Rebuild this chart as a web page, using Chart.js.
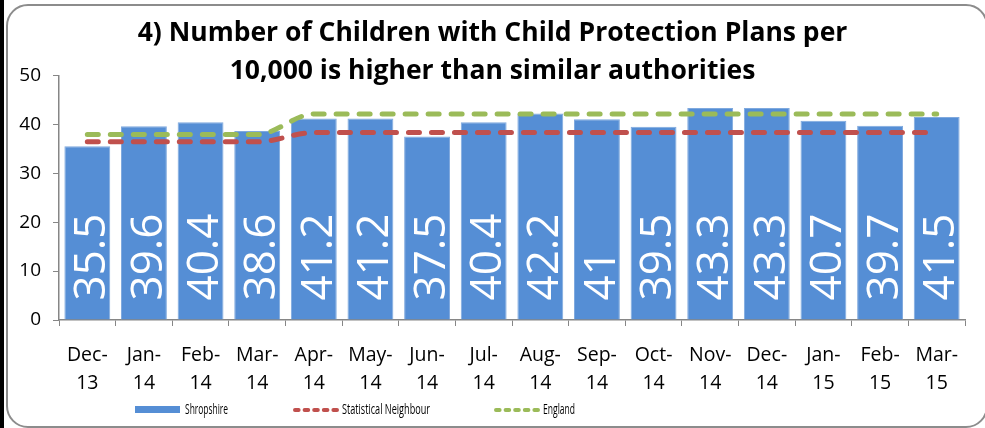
<!DOCTYPE html>
<html>
<head>
<meta charset="utf-8">
<script src="https://cdn.jsdelivr.net/npm/chart.js@4.4.1/dist/chart.umd.min.js"></script>
<style>
  html, body { margin: 0; padding: 0; background: #fff; }
  #wrap { position: relative; width: 985px; height: 428px; overflow: hidden; }
  #blackbar { position: absolute; left: 0; top: 0; width: 4px; height: 428px; background: #000; }
  #frame { position: absolute; left: 6px; top: 4px; width: 978px; height: 420px;
           border: 2px solid #8c8c8c; border-radius: 22px; }
  #chart { position: absolute; left: 0; top: 0; }
</style>
</head>
<body>
<div id="wrap">
  <div id="blackbar"></div>
  <div id="frame"></div>
  <canvas id="chart" width="985" height="428"></canvas>
</div>
<script>
const months = [
  ["Dec-", "13"], ["Jan-", "14"], ["Feb-", "14"], ["Mar-", "14"],
  ["Apr-", "14"], ["May-", "14"], ["Jun-", "14"], ["Jul-", "14"],
  ["Aug-", "14"], ["Sep-", "14"], ["Oct-", "14"], ["Nov-", "14"],
  ["Dec-", "14"], ["Jan-", "15"], ["Feb-", "15"], ["Mar-", "15"]
];
const shropshire = [35.5, 39.6, 40.4, 38.6, 41.2, 41.2, 37.5, 40.4, 42.2, 41, 39.5, 43.3, 43.3, 40.7, 39.7, 41.5];
const statNeighbour = [36.4, 36.4, 36.4, 36.4, 38.3, 38.3, 38.3, 38.3, 38.3, 38.3, 38.3, 38.3, 38.3, 38.3, 38.3, 38.3];
const england = [37.9, 37.9, 37.9, 37.9, 42.1, 42.1, 42.1, 42.1, 42.1, 42.1, 42.1, 42.1, 42.1, 42.1, 42.1, 42.1];
const titleLines = ["4) Number of Children with Child Protection Plans per", "10,000 is higher than similar authorities"];

const BLUE = "#558ED5";
const RED = "#C0504D";
const GREEN = "#9BBB59";
const FONT = "'Open Sans', 'Noto Sans', sans-serif";

// white rotated values sitting at the base of each bar
const barLabels = {
  id: "barLabels",
  afterDatasetsDraw(chart) {
    const ctx = chart.ctx;
    const meta = chart.getDatasetMeta(0);
    const size = 44;
    ctx.save();
    ctx.fillStyle = "#fff";
    ctx.font = size + "px " + FONT;
    ctx.textAlign = "left";
    ctx.textBaseline = "alphabetic";
    meta.data.forEach((bar, i) => {
      ctx.save();
      ctx.translate(bar.x + 2, bar.base - 19);
      ctx.rotate(-Math.PI / 2);
      ctx.fillText(String(shropshire[i]), 0, size * 0.357);
      ctx.restore();
    });
    ctx.restore();
  }
};

// legend drawn by hand to get Excel's spacing (text is condensed like the original)
const excelLegend = {
  id: "excelLegend",
  afterDraw(chart) {
    const ctx = chart.ctx;
    const y = 410;
    ctx.save();
    ctx.font = "14px " + FONT;
    ctx.textBaseline = "middle";
    ctx.fillStyle = BLUE;
    ctx.fillRect(135, y - 4, 45, 7);
    ctx.fillStyle = "#000";
    ctx.fillText("Shropshire", 185, y, 43);
    const items = [[292, RED, "Statistical Neighbour", 88], [493, GREEN, "England", 32]];
    items.forEach(d => {
      ctx.save();
      ctx.strokeStyle = d[1];
      ctx.lineWidth = 4;
      ctx.lineCap = "round";
      ctx.setLineDash([3.6, 6]);
      ctx.beginPath();
      ctx.moveTo(d[0] + 3, y);
      ctx.lineTo(d[0] + 45, y);
      ctx.stroke();
      ctx.restore();
      ctx.fillText(d[2], d[0] + 50, y, d[3]);
    });
    ctx.restore();
  }
};

new Chart(document.getElementById("chart"), {
  type: "bar",
  data: {
    labels: months,
    datasets: [
      {
        label: "Shropshire",
        data: shropshire,
        backgroundColor: BLUE,
        borderColor: "#7FA9DE",
        borderWidth: 1,
        barPercentage: 0.81,
        categoryPercentage: 1,
        order: 3
      },
      {
        type: "line",
        label: "Statistical Neighbour",
        data: statNeighbour,
        borderColor: RED,
        borderWidth: 5,
        borderDash: [11, 12],
        borderCapStyle: "round",
        cubicInterpolationMode: "monotone",
        pointRadius: 0,
        fill: false,
        order: 2
      },
      {
        type: "line",
        label: "England",
        data: england,
        borderColor: GREEN,
        borderWidth: 5,
        borderDash: [11, 12],
        borderCapStyle: "round",
        cubicInterpolationMode: "monotone",
        pointRadius: 0,
        fill: false,
        order: 1
      }
    ]
  },
  options: {
    responsive: false,
    animation: false,
    layout: { padding: 0 },
    plugins: {
      legend: { display: false },
      tooltip: { enabled: false },
      title: {
        display: true,
        text: titleLines,
        color: "#000",
        font: { family: FONT, size: 26.5, weight: "bold", lineHeight: 1.44 },
        padding: { top: 14, bottom: -15 }
      }
    },
    scales: {
      x: {
        grid: { display: true, drawOnChartArea: false, drawTicks: true, tickLength: 6, offset: true, color: "#868686" },
        border: { color: "#868686", width: 1.5 },
        ticks: { color: "#000", font: { family: FONT, size: 19.5, lineHeight: 1.44 }, padding: 15, maxRotation: 0, autoSkip: false },
        afterFit(scale) { scale.height = 108; }
      },
      y: {
        min: 0,
        max: 50,
        grid: { display: true, drawOnChartArea: false, drawTicks: true, tickLength: 6, color: "#868686" },
        border: { color: "#868686", width: 1.5 },
        ticks: { stepSize: 10, color: "#000", font: { family: FONT, size: 19 }, padding: 12 },
        afterFit(scale) { scale.width = 59; }
      },
      // empty right-hand gutter so the title stays centred on the whole frame
      gutter: {
        position: "right",
        display: true,
        grid: { display: false },
        border: { display: false },
        ticks: { display: false },
        afterFit(scale) { scale.width = 20; }
      }
    }
  },
  plugins: [barLabels, excelLegend]
});
</script>
</body>
</html>
